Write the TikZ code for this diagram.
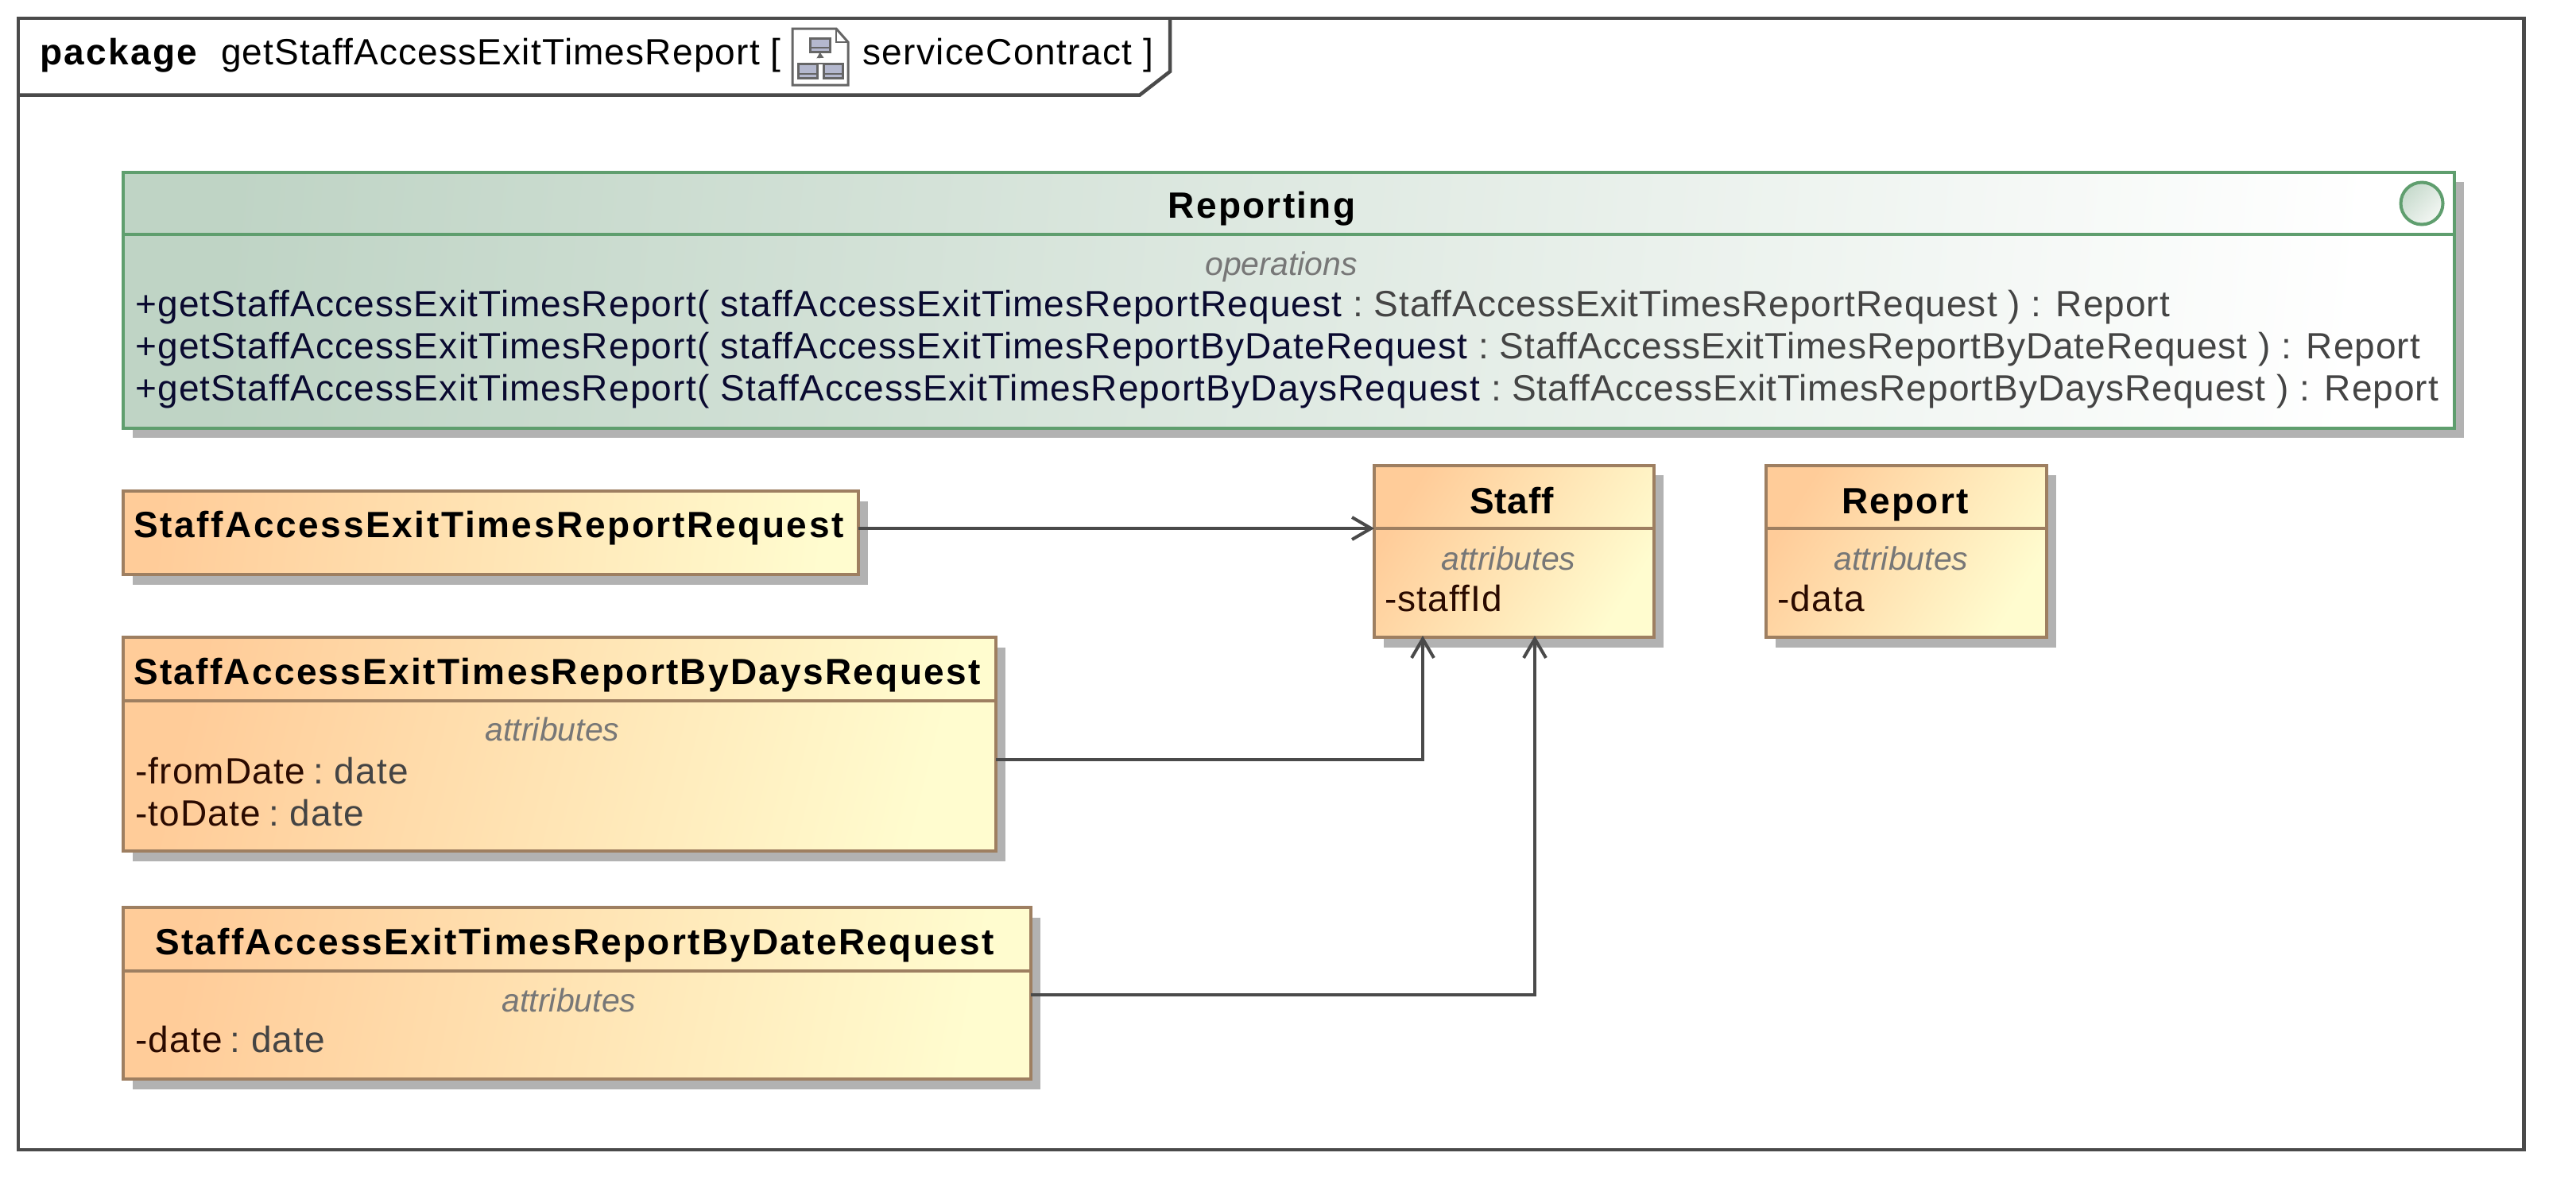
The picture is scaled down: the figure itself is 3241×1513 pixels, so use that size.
\documentclass[tikz,border=0pt]{standalone}
\usepackage{fontspec}
\setmainfont{Liberation Sans}
\usetikzlibrary{arrows.meta,shadows}
\definecolor{frameline}{HTML}{4A4A4A}
\definecolor{classline}{HTML}{9E7F61}
\definecolor{classleft}{HTML}{FFCC99}
\definecolor{classright}{HTML}{FFFCCF}
\definecolor{ifaceline}{HTML}{5F9E6E}
\definecolor{ifaceleft}{HTML}{BFD4C5}
\definecolor{markleft}{HTML}{C6DACC}
\definecolor{markright}{HTML}{F4F7F4}
\definecolor{shadowgray}{HTML}{B2B2B2}
\definecolor{headgray}{HTML}{777777}
\definecolor{typegray}{HTML}{444444}
\definecolor{opink}{HTML}{0A0A30}
\definecolor{attrink}{HTML}{2A0A00}
\definecolor{iconline}{HTML}{666666}
\definecolor{iconfill}{HTML}{B4B8CE}
\tikzset{
  boxshadow/.style={drop shadow={shadow xshift=12pt,shadow yshift=-12.5pt,fill=shadowgray,opacity=1}},
  classbox/.style={boxshadow,draw=classline,line width=4pt,left color=classleft,right color=classright,anchor=north west,inner sep=0pt,outer sep=0pt},
  ifacebox/.style={boxshadow,draw=ifaceline,line width=4pt,left color=ifaceleft,right color=white,anchor=north west,inner sep=0pt,outer sep=0pt},
  classrule/.style={draw=classline,line width=4pt},
  ifacerule/.style={draw=ifaceline,line width=4pt},
  assoc/.style={draw=frameline,line width=4pt,-{Straight Barb[length=24pt,width=28pt,line width=4pt]}},
  titletext/.style={anchor=base,inner sep=0pt,font=\fontsize{46}{46}\selectfont\bfseries\addfontfeature{LetterSpace=5}},
  headtext/.style={anchor=base,inner sep=0pt,font=\fontsize{41}{41}\selectfont\itshape,text=headgray},
  rowtext/.style={anchor=base west,inner sep=0pt,font=\fontsize{46}{46}\selectfont\addfontfeature{LetterSpace=2.6}},
  iconbox/.style={draw=iconline,fill=iconfill,line width=3pt,anchor=north west,inner sep=0pt,outer sep=0pt},
  iconrow/.style={draw=iconline,line width=1.5pt}
}
\newcommand{\oprow}[2]{\textcolor{opink}{#1} \textcolor{typegray}{\addfontfeature{LetterSpace=2.2}: \hspace*{-5pt}#2}}
\newcommand{\attrrow}[2]{\textcolor{attrink}{#1} \hspace*{-4pt}\textcolor{typegray}{: \hspace*{-5pt}#2}}
\begin{document}
\begin{tikzpicture}[x=1pt,y=-1pt]
  \useasboundingbox (0,0) rectangle (3241,1513);
  % frame and its tab
  \node[draw=frameline,line width=4.5pt,anchor=north west,inner sep=0pt,outer sep=0pt,minimum width=3152.5pt,minimum height=1424pt] (frame) at (23,23) {};
  \coordinate (tabtop) at (1472,23);
  \coordinate (tabcut) at (1472,90);
  \coordinate (tabfoot) at (1434,119.5);
  \draw[draw=frameline,line width=4.5pt] (tabtop) -- (tabcut) -- (tabfoot) -- (tabfoot -| frame.west);
  \node[titletext,anchor=base west] (tabkind) at (50,81) {package};
  \node[rowtext] (tabname) at (278,81) {getStaffAccessExitTimesReport [};
  \node[rowtext] (tabtype) at (1085,81) {\addfontfeature{LetterSpace=3.1}serviceContract ]};
  % diagram icon
  \draw[draw=iconline,line width=3pt,fill=white] (997,36) -- (1052,36) -- (1067,53) -- (1067,107) -- (997,107) -- cycle;
  \draw[draw=iconline,line width=2pt] (1052,36) -- (1052,53) -- (1067,53);
  \node[iconbox,minimum width=25pt,minimum height=17pt] (icontop) at (1019,48) {};
  \node[iconbox,minimum width=24pt,minimum height=18pt] (iconleft) at (1004,80) {};
  \node[iconbox,minimum width=24pt,minimum height=18pt] (iconright) at (1036,80) {};
  \draw[iconrow] ([yshift=5pt]icontop.south west) -- ([yshift=5pt]icontop.south east);
  \draw[iconrow] ([yshift=5pt]iconleft.south west) -- ([yshift=5pt]iconleft.south east);
  \draw[iconrow] ([yshift=5pt]iconright.south west) -- ([yshift=5pt]iconright.south east);
  \draw[draw=iconline,line width=2.5pt] (iconleft.north) |- (iconright.north);
  \draw[draw=iconline,line width=2.5pt,-{Latex[length=8pt,width=10pt]}] (1032,73) -- (icontop.south);
  % Reporting
  \node[ifacebox,shading angle=84,minimum width=2933pt,minimum height=322pt] (reporting) at (155,216.5) {};
  \coordinate (reportinghead) at (155,295);
  \draw[ifacerule] (reportinghead) -- (reportinghead -| reporting.east);
  \node[circle,draw=ifaceline,line width=4pt,left color=markleft,right color=markright,shading angle=45,minimum size=53pt,inner sep=0pt,outer sep=0pt] (reportingmark) at (3047,256) {};
  \node[titletext] (reportingtitle) at (1587.5,274) {Reporting};
  \node[headtext] (reportinghd) at (1612,346) {operations};
  \node[rowtext] (opone) at (170,398) {\oprow{+getStaffAccessExitTimesReport( staffAccessExitTimesReportRequest}{StaffAccessExitTimesReportRequest ) : Report}};
  \node[rowtext] (optwo) at (170,451) {\oprow{+getStaffAccessExitTimesReport( staffAccessExitTimesReportByDateRequest}{StaffAccessExitTimesReportByDateRequest ) : Report}};
  \node[rowtext] (opthree) at (170,504) {\oprow{+getStaffAccessExitTimesReport( StaffAccessExitTimesReportByDaysRequest}{StaffAccessExitTimesReportByDaysRequest ) : Report}};
  % request classes
  \node[classbox,shading angle=83,minimum width=925pt,minimum height=105pt] (request) at (155,618) {};
  \node[titletext,anchor=base west] (requesttitle) at (168,676) {\addfontfeature{LetterSpace=5.7}StaffAccessExitTimesReportRequest};
  \node[classbox,shading angle=76,minimum width=1098pt,minimum height=269pt] (days) at (155,802) {};
  \coordinate (dayshead) at (155,882);
  \draw[classrule] (dayshead) -- (dayshead -| days.east);
  \node[titletext] (daystitle) at (701,861) {StaffAccessExitTimesReportByDaysRequest};
  \node[headtext] (dayshd) at (695,932) {attributes};
  \node[rowtext] (daysfrom) at (170,986) {\attrrow{-fromDate}{date}};
  \node[rowtext] (daysto) at (170,1039) {\attrrow{-toDate}{date}};
  \node[classbox,shading angle=79,minimum width=1142pt,minimum height=216pt] (date) at (155,1142) {};
  \coordinate (datehead) at (155,1222);
  \draw[classrule] (datehead) -- (datehead -| date.east);
  \node[titletext] (datetitle) at (723,1201) {StaffAccessExitTimesReportByDateRequest};
  \node[headtext] (datehd) at (716,1273) {attributes};
  \node[rowtext] (dateval) at (170,1324) {\attrrow{-date}{date}};
  % Staff and Report
  \node[classbox,shading angle=58,minimum width=352pt,minimum height=216.5pt] (staff) at (1729,585.5) {};
  \coordinate (staffhead) at (1729,665);
  \draw[classrule] (staffhead) -- (staffhead -| staff.east);
  \node[titletext] (stafftitle) at (1902,646) {\addfontfeature{LetterSpace=2}Staff};
  \node[headtext] (staffhd) at (1898,717) {attributes};
  \node[rowtext] (staffid) at (1742,769) {\textcolor{attrink}{-staffId}};
  \node[classbox,shading angle=58,minimum width=353pt,minimum height=216.5pt] (report) at (2222,585.5) {};
  \coordinate (reporthead) at (2222,665);
  \draw[classrule] (reporthead) -- (reporthead -| report.east);
  \node[titletext] (reporttitle) at (2397,646) {Report};
  \node[headtext] (reporthd) at (2392,717) {attributes};
  \node[rowtext] (reportdata) at (2236,769) {\textcolor{attrink}{-data}};
  % associations
  \draw[assoc] (staffhead -| request.east) -- (staffhead);
  \draw[assoc] ([yshift=-19.5pt]days.east) -| ([xshift=-115pt,yshift=2pt]staff.south);
  \draw[assoc] ([yshift=-2pt]date.east) -| ([xshift=26pt,yshift=2pt]staff.south);
\end{tikzpicture}
\end{document}
